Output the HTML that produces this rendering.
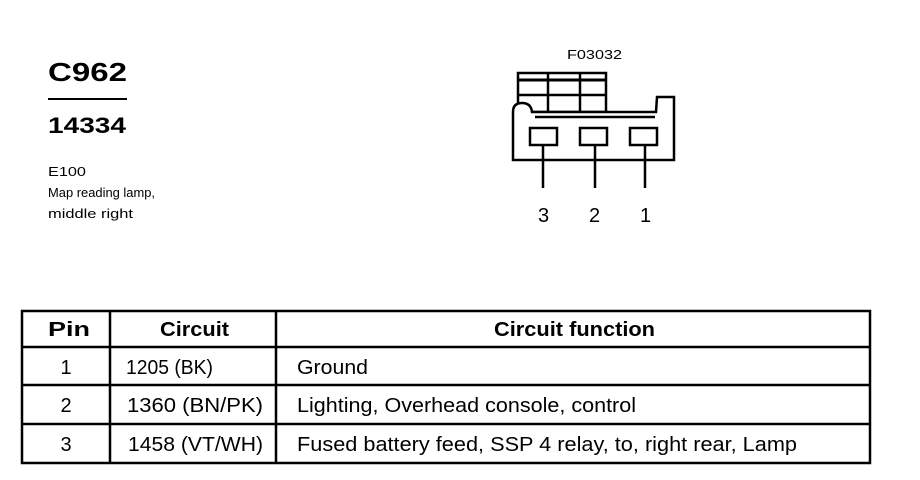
<!DOCTYPE html>
<html><head><meta charset="utf-8"><style>
body{margin:0;background:#fff;}
svg{display:block;font-family:"Liberation Sans",Arial,sans-serif;}
</style></head><body>
<svg width="920" height="480" viewBox="0 0 920 480">
<rect width="920" height="480" fill="#fff"/>
<text x="48" y="81" font-size="26" font-weight="bold" textLength="79" lengthAdjust="spacingAndGlyphs">C962</text>
<line x1="48" y1="99" x2="127" y2="99" stroke="#000" stroke-width="2"/>
<text x="48" y="133" font-size="22" font-weight="bold" textLength="78" lengthAdjust="spacingAndGlyphs">14334</text>
<text x="48" y="176" font-size="13" textLength="38" lengthAdjust="spacingAndGlyphs">E100</text>
<text x="48" y="197" font-size="13" textLength="107" lengthAdjust="spacingAndGlyphs">Map reading lamp,</text>
<text x="48" y="218" font-size="13" textLength="85" lengthAdjust="spacingAndGlyphs">middle right</text>
<text x="567" y="59" font-size="13" textLength="55" lengthAdjust="spacingAndGlyphs">F03032</text>
<g fill="none" stroke="#000" stroke-width="2.5">
<rect x="518" y="73" width="88" height="39"/>
<line x1="548" y1="73" x2="548" y2="112"/><line x1="580" y1="73" x2="580" y2="112"/>
<line x1="518" y1="80" x2="606" y2="80" stroke-width="3"/><line x1="518" y1="95" x2="606" y2="95"/>
<path d="M513,160 L513,112 Q513,103 522,103 Q531,103 532,112 L656,112 L657,97 L674,97 L674,160 Z" fill="#fff"/>
<line x1="535" y1="117" x2="655" y2="117"/>
<rect x="530" y="128" width="27" height="17"/>
<rect x="580" y="128" width="27" height="17"/>
<rect x="630" y="128" width="27" height="17"/>
<line x1="543" y1="145" x2="543" y2="188"/><line x1="595" y1="145" x2="595" y2="188"/><line x1="645" y1="145" x2="645" y2="188"/>
</g>
<text x="538" y="222" font-size="20">3</text>
<text x="589" y="222" font-size="20">2</text>
<text x="640" y="222" font-size="20">1</text>
<g stroke="#000" stroke-width="2.5" fill="none">
<rect x="22" y="311" width="848" height="152"/>
<line x1="22" y1="347" x2="870" y2="347"/>
<line x1="22" y1="385" x2="870" y2="385"/>
<line x1="22" y1="424" x2="870" y2="424"/>
<line x1="110" y1="311" x2="110" y2="463"/>
<line x1="276" y1="311" x2="276" y2="463"/>
</g>
<g font-size="20">
<text x="48" y="336" font-weight="bold" textLength="42" lengthAdjust="spacingAndGlyphs">Pin</text>
<text x="160" y="336" font-weight="bold" textLength="69" lengthAdjust="spacingAndGlyphs">Circuit</text>
<text x="494" y="336" font-weight="bold" textLength="161" lengthAdjust="spacingAndGlyphs">Circuit function</text>
<text x="66" y="374" text-anchor="middle">1</text>
<text x="66" y="412" text-anchor="middle">2</text>
<text x="66" y="451" text-anchor="middle">3</text>
<text x="126" y="374" textLength="87" lengthAdjust="spacingAndGlyphs">1205 (BK)</text>
<text x="127" y="412" textLength="136" lengthAdjust="spacingAndGlyphs">1360 (BN/PK)</text>
<text x="128" y="451" textLength="135" lengthAdjust="spacingAndGlyphs">1458 (VT/WH)</text>
<text x="297" y="374" textLength="71" lengthAdjust="spacingAndGlyphs">Ground</text>
<text x="297" y="412" textLength="339" lengthAdjust="spacingAndGlyphs">Lighting, Overhead console, control</text>
<text x="297" y="451" textLength="500" lengthAdjust="spacingAndGlyphs">Fused battery feed, SSP 4 relay, to, right rear, Lamp</text>
</g>
</svg>
</body></html>
